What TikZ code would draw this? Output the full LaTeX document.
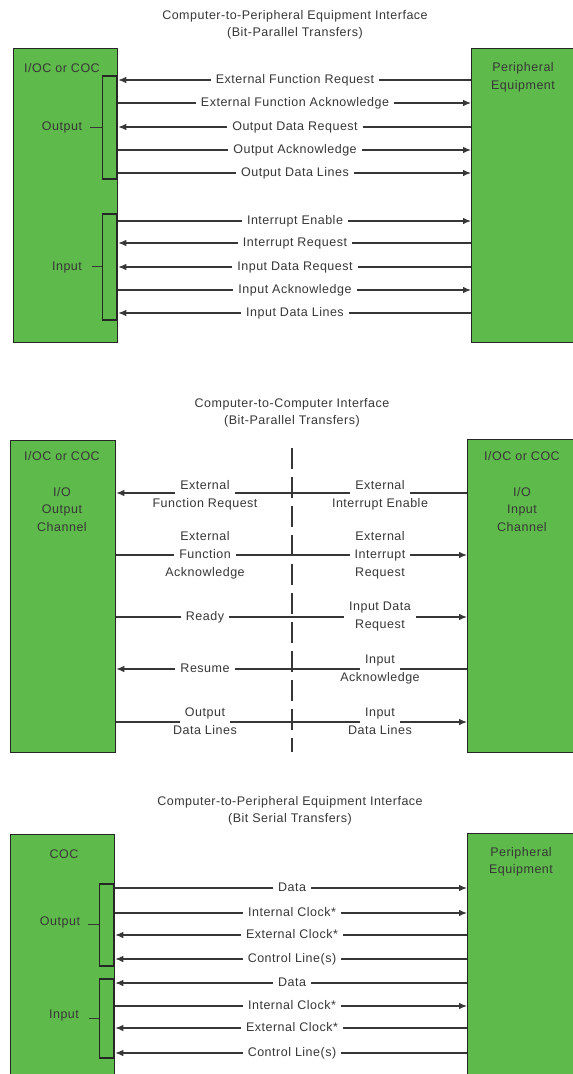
\documentclass[tikz,border=0pt]{standalone}
\usepackage{fontspec}
\setmainfont[LetterSpace=4]{Liberation Sans}
\usetikzlibrary{positioning,arrows.meta}
\definecolor{boxgreen}{RGB}{94,186,74}
\definecolor{inkgray}{RGB}{55,55,55}
\newcommand{\diafont}{\fontsize{12.5}{17.5}\selectfont}
\tikzstyle{box}=[rectangle,fill=boxgreen,draw=black!85,line width=1.3pt,anchor=north west,inner sep=0pt]
\tikzstyle{brk}=[rectangle,draw=black!85,line width=1.5pt,minimum width=14pt,anchor=north east,inner sep=0pt]
\tikzstyle{txt}=[font=\diafont,text=inkgray,align=center,inner sep=0pt]
\tikzstyle{sig}=[font=\diafont,text=inkgray,text height=9.5pt,text depth=3pt,inner xsep=5pt,inner ysep=2.5pt]
\tikzstyle{wire}=[draw=inkgray,line width=1.1pt]
\tikzstyle{flow}=[wire,-{Latex[length=8pt,width=6.5pt]}]
\tikzstyle{divider}=[draw=inkgray,line width=1.3pt,dash pattern=on 21pt off 8pt]

\begin{document}
\begin{tikzpicture}[x=1pt,y=-1pt]
                \useasboundingbox[fill=white] (0,0) rectangle (573,1074);

                \node[txt] (title1) at (295,25) {Computer-to-Peripheral Equipment Interface\\(Bit-Parallel Transfers)};
                \node[box,minimum width=104,minimum height=294] (coc1) at (13,48) {};
                \node[box,minimum width=120,minimum height=294] (per1) at (471,48) {};
                \node[txt] (coc1t) at (62,68) {I/OC or COC};
                \node[txt] (per1t) at (523,77.5) {Peripheral\\Equipment};
                \node[brk,minimum height=103] (outb1) at (117,75) {};
                \node[brk,minimum height=106] (inb1) at (117,213) {};
                \node[txt] (out1) at (62,127) {Output};
                \node[txt] (in1) at (67,267) {Input};
                \draw[wire] ([xshift=-12pt]outb1.west) -- (outb1.west);
                \draw[wire] ([xshift=-10pt]inb1.west) -- (inb1.west);

                \node[sig] (efr) at (295,80) {External Function Request};
                \node[sig] (efa) at (295,103) {External Function Acknowledge};
                \node[sig] (odr) at (295,127) {Output Data Request};
                \node[sig] (oak) at (295,150) {Output Acknowledge};
                \node[sig] (odl) at (295,173) {Output Data Lines};
                \node[sig] (ien) at (295,221) {Interrupt Enable};
                \node[sig] (irq) at (295,243) {Interrupt Request};
                \node[sig] (idr) at (295,267) {Input Data Request};
                \node[sig] (iak) at (295,290) {Input Acknowledge};
                \node[sig] (idl) at (295,313) {Input Data Lines};

                \draw[flow] (per1.west |- efr) -- (efr) -- (coc1.east |- efr);
                \draw[flow] (coc1.east |- efa) -- (efa) -- (per1.west |- efa);
                \draw[flow] (per1.west |- odr) -- (odr) -- (coc1.east |- odr);
                \draw[flow] (coc1.east |- oak) -- (oak) -- (per1.west |- oak);
                \draw[flow] (coc1.east |- odl) -- (odl) -- (per1.west |- odl);
                \draw[flow] (coc1.east |- ien) -- (ien) -- (per1.west |- ien);
                \draw[flow] (per1.west |- irq) -- (irq) -- (coc1.east |- irq);
                \draw[flow] (per1.west |- idr) -- (idr) -- (coc1.east |- idr);
                \draw[flow] (coc1.east |- iak) -- (iak) -- (per1.west |- iak);
                \draw[flow] (per1.west |- idl) -- (idl) -- (coc1.east |- idl);

                \node[txt] (title2) at (292,413) {Computer-to-Computer Interface\\(Bit-Parallel Transfers)};
                \node[box,minimum width=105,minimum height=312] (coc2a) at (10,440) {};
                \node[box,minimum width=120,minimum height=313] (coc2b) at (467,439) {};
                \node[txt] (coc2at) at (62,456) {I/OC or COC};
                \node[txt] (och) at (62,509.5) {I/O\\Output\\Channel};
                \node[txt] (coc2bt) at (522,456) {I/OC or COC};
                \node[txt] (ich) at (522,509.5) {I/O\\Input\\Channel};

                \coordinate (cut1) at (292,448);
                \coordinate (cut2) at (292,752);
                \draw[divider] (cut1) -- (cut2);

                \coordinate (r1) at (292,493);
                \coordinate (r2) at (292,555);
                \coordinate (r3) at (292,617);
                \coordinate (r4) at (292,669);
                \coordinate (r5) at (292,722);

                \node[sig] (efr2) at (205,486) {External};
                \node[sig,below=0pt of efr2] (efr2b) {Function Request};
                \node[sig] (eie2) at (380,486) {External};
                \node[sig,below=0pt of eie2] (eie2b) {Interrupt Enable};

                \node[sig] (efa2) at (205,555) {Function};
                \node[sig,above=0pt of efa2] (efa2a) {External};
                \node[sig,below=0pt of efa2] (efa2b) {Acknowledge};
                \node[sig] (eir2) at (380,555) {Interrupt};
                \node[sig,above=0pt of eir2] (eir2a) {External};
                \node[sig,below=0pt of eir2] (eir2b) {Request};

                \node[sig] (rdy2) at (205,617) {Ready};
                \node[sig] (idr2) at (380,607) {Input Data};
                \node[sig,below=0pt of idr2] (idr2b) {Request};

                \node[sig] (rsm2) at (205,669) {Resume};
                \node[sig] (iak2) at (380,660) {Input};
                \node[sig,below=0pt of iak2] (iak2b) {Acknowledge};

                \node[sig] (odl2) at (205,713) {Output};
                \node[sig,below=0pt of odl2] (odl2b) {Data Lines};
                \node[sig] (idl2) at (380,713) {Input};
                \node[sig,below=0pt of idl2] (idl2b) {Data Lines};

                \draw[flow] (efr2.west |- r1) -- (coc2a.east |- r1);
                \draw[wire] (efr2.east |- r1) -- (eie2.west |- r1);
                \draw[wire] (eie2.east |- r1) -- (coc2b.west |- r1);

                \draw[wire] (coc2a.east |- r2) -- (efa2.west |- r2);
                \draw[wire] (efa2.east |- r2) -- (eir2.west |- r2);
                \draw[flow] (eir2.east |- r2) -- (coc2b.west |- r2);

                \draw[wire] (coc2a.east |- r3) -- (rdy2.west |- r3);
                \draw[wire] (rdy2.east |- r3) -- (idr2.west |- r3);
                \draw[flow] (idr2.east |- r3) -- (coc2b.west |- r3);

                \draw[flow] (rsm2.west |- r4) -- (coc2a.east |- r4);
                \draw[wire] (rsm2.east |- r4) -- (iak2.west |- r4);
                \draw[wire] (iak2.east |- r4) -- (coc2b.west |- r4);

                \draw[wire] (coc2a.east |- r5) -- (odl2.west |- r5);
                \draw[wire] (odl2.east |- r5) -- (idl2.west |- r5);
                \draw[flow] (idl2.east |- r5) -- (coc2b.west |- r5);

                \node[txt] (title3) at (290,811) {Computer-to-Peripheral Equipment Interface\\(Bit Serial Transfers)};
                \node[box,minimum width=104,minimum height=260] (coc3) at (10,834) {};
                \node[box,minimum width=120,minimum height=260] (per3) at (467,833) {};
                \node[txt] (coc3t) at (64,854) {COC};
                \node[txt] (per3t) at (521,862) {Peripheral\\Equipment};
                \node[brk,minimum height=82] (outb3) at (114,883) {};
                \node[brk,minimum height=79] (inb3) at (114,978) {};
                \node[txt] (out3) at (60,922) {Output};
                \node[txt] (in3) at (64,1015) {Input};
                \draw[wire] ([xshift=-11pt]outb3.west) -- (outb3.west);
                \draw[wire] ([xshift=-10pt]inb3.west) -- (inb3.west);

                \node[sig] (dto) at (292,888) {Data};
                \node[sig] (ico) at (292,913) {Internal Clock*};
                \node[sig] (eco) at (292,935) {External Clock*};
                \node[sig] (clo) at (292,959) {Control Line(s)};
                \node[sig] (dti) at (292,983) {Data};
                \node[sig] (ici) at (292,1006) {Internal Clock*};
                \node[sig] (eci) at (292,1028) {External Clock*};
                \node[sig] (cli) at (292,1053) {Control Line(s)};

                \draw[flow] (coc3.east |- dto) -- (dto) -- (per3.west |- dto);
                \draw[flow] (coc3.east |- ico) -- (ico) -- (per3.west |- ico);
                \draw[flow] (per3.west |- eco) -- (eco) -- (coc3.east |- eco);
                \draw[flow] (per3.west |- clo) -- (clo) -- (coc3.east |- clo);
                \draw[flow] (per3.west |- dti) -- (dti) -- (coc3.east |- dti);
                \draw[flow] (coc3.east |- ici) -- (ici) -- (per3.west |- ici);
                \draw[flow] (per3.west |- eci) -- (eci) -- (coc3.east |- eci);
                \draw[flow] (per3.west |- cli) -- (cli) -- (coc3.east |- cli);
\end{tikzpicture}
\end{document}
